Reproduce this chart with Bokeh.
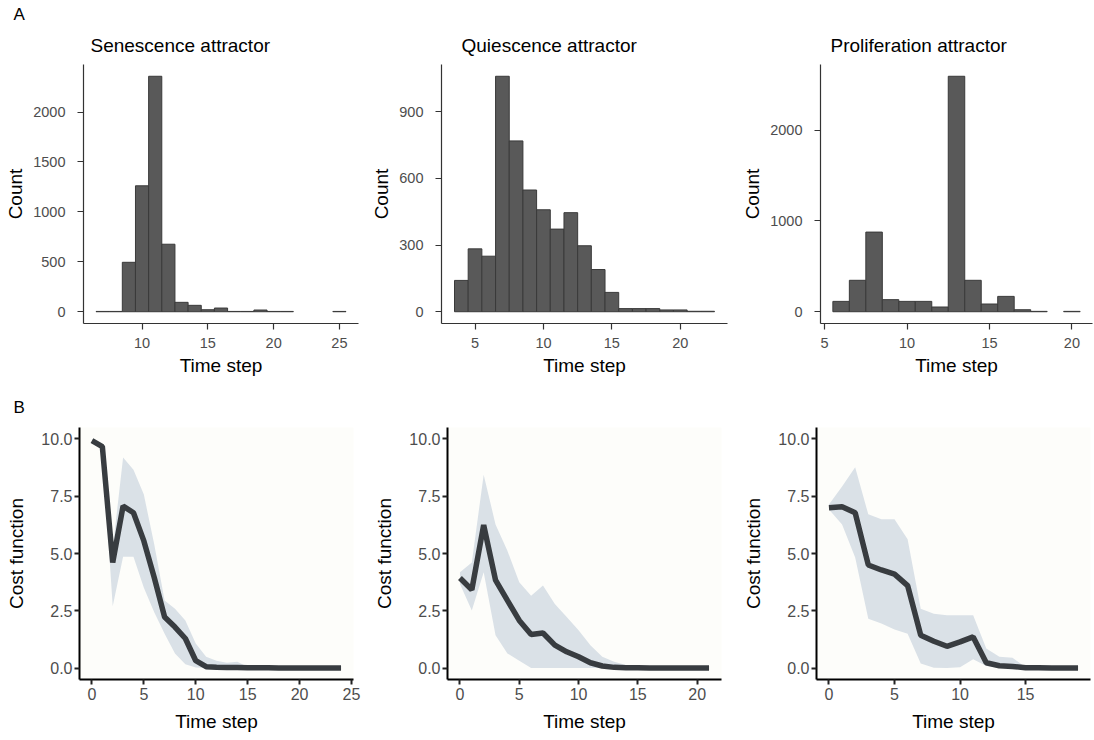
from bokeh.plotting import figure
from bokeh.layouts import column, row
from bokeh.models import FixedTicker, NumeralTickFormatter, Range1d, Title
from bokeh.embed import file_html
from bokeh.resources import INLINE

FONT = "Liberation Sans"

# ---- Panel A: histograms of time step to reach attractor ----
sen_steps = [7, 8, 9, 10, 11, 12, 13, 14, 15, 16, 17, 18, 19, 20, 21, 25]
sen_counts = [3, 3, 495, 1261, 2358, 676, 94, 64, 20, 37, 3, 3, 17, 3, 3, 3]

qui_steps = [4, 5, 6, 7, 8, 9, 10, 11, 12, 13, 14, 15, 16, 17, 18, 19, 20, 21, 22]
qui_counts = [141, 283, 250, 1060, 769, 548, 459, 372, 446, 297, 190, 87, 14, 14, 14, 8, 8, 2, 2]

pro_steps = [6, 7, 8, 9, 10, 11, 12, 13, 14, 15, 16, 17, 18, 20]
pro_counts = [114, 346, 877, 133, 114, 114, 52, 2593, 346, 85, 169, 22, 4, 4]

hist_titles = ["Senescence attractor", "Quiescence attractor", "Proliferation attractor"]
sen_xticks = [10, 15, 20, 25]
sen_yticks = [0, 500, 1000, 1500, 2000]
qui_xticks = [5, 10, 15, 20]
qui_yticks = [0, 300, 600, 900]
pro_xticks = [5, 10, 15, 20]
pro_yticks = [0, 1000, 2000]

# ---- Panel B: cost function over time steps ----
sen_mean = [9.93, 9.67, 4.61, 7.07, 6.78, 5.55, 3.95, 2.23, 1.79, 1.29, 0.32, 0.06, 0.03,
            0.02, 0.02, 0.01, 0.01, 0.01, 0.0, 0.0, 0.0, 0.0, 0.0, 0.0, 0.0]
sen_upper = [10.0, 9.75, 5.2, 9.19, 8.66, 7.57, 5.4, 2.95, 2.59, 2.08, 1.07, 0.49, 0.32,
             0.23, 0.27, 0.06, 0.02, 0.01, 0.0, 0.0, 0.0, 0.0, 0.0, 0.0, 0.0]
sen_lower = [9.85, 9.6, 2.7, 4.86, 4.86, 3.5, 2.44, 1.5, 0.64, 0.17, 0.02, 0.0, 0.0,
             0.0, 0.0, 0.0, 0.0, 0.0, 0.0, 0.0, 0.0, 0.0, 0.0, 0.0, 0.0]

qui_mean = [3.93, 3.42, 6.24, 3.84, 2.95, 2.08, 1.46, 1.53, 1.0, 0.71, 0.49, 0.23, 0.09,
            0.03, 0.01, 0.01, 0.0, 0.0, 0.0, 0.0, 0.0, 0.0]
qui_upper = [4.18, 4.61, 8.44, 6.27, 5.12, 3.74, 3.16, 3.6, 2.8, 2.23, 1.65, 1.0, 0.49,
             0.27, 0.13, 0.06, 0.02, 0.01, 0.0, 0.0, 0.0, 0.0]
qui_lower = [3.67, 2.51, 4.18, 1.43, 0.64, 0.32, 0.0, 0.0, 0.0, 0.0, 0.0, 0.0, 0.0,
             0.0, 0.0, 0.0, 0.0, 0.0, 0.0, 0.0, 0.0, 0.0]

pro_mean = [7.0, 7.04, 6.78, 4.5, 4.28, 4.1, 3.6, 1.43, 1.17, 0.95, 1.14, 1.36, 0.23,
            0.1, 0.07, 0.01, 0.01, 0.0, 0.0, 0.0]
pro_upper = [7.14, 7.93, 8.76, 6.71, 6.49, 6.49, 5.62, 2.59, 2.37, 2.3, 2.3, 2.3, 0.85,
             0.49, 0.45, 0.03, 0.01, 0.0, 0.0, 0.0]
pro_lower = [6.92, 6.27, 4.83, 2.15, 1.94, 1.68, 1.5, 0.2, 0.01, 0.0, 0.03, 0.38, 0.09,
             0.0, 0.0, 0.0, 0.0, 0.0, 0.0, 0.0]

cost_yticks = [0, 2.5, 5, 7.5, 10]
sen_txticks = [0, 5, 10, 15, 20, 25]
qui_txticks = [0, 5, 10, 15, 20]
pro_txticks = [0, 5, 10, 15]

BAR_FILL = "#595959"
BAR_LINE = "#3a3a3a"
LINE_COL = "#383c40"
RIBBON_COL = "#dae1e7"

TOP_H, BOT_H = 385, 355


def style(p, xticks, yticks, top_row):
    p.xaxis.ticker = FixedTicker(ticks=xticks)
    p.yaxis.ticker = FixedTicker(ticks=yticks)
    p.xgrid.visible = False
    p.ygrid.visible = False
    p.outline_line_color = None
    for ax in (p.xaxis[0], p.yaxis[0]):
        ax.minor_tick_line_color = None
        ax.major_tick_in = 0
        ax.major_label_text_font = FONT
        ax.major_label_text_color = "#4d4d4d"
        ax.axis_label_text_font = FONT
        ax.axis_label_text_font_style = "normal"
        ax.axis_label_text_font_size = "19px"
        ax.axis_label_text_color = "#000000"
        if top_row:
            ax.axis_line_color = "#333333"
            ax.axis_line_width = 1.2
            ax.major_tick_line_color = "#333333"
            ax.major_tick_line_width = 1.2
            ax.major_tick_out = 6
            ax.major_label_text_font_size = "14.5px"
        else:
            ax.axis_line_color = "#000000"
            ax.axis_line_width = 2
            ax.major_tick_line_color = "#222222"
            ax.major_tick_line_width = 2
            ax.major_tick_out = 5
            ax.major_label_text_font_size = "16px"
    if top_row:
        p.xaxis.major_label_standoff = 8
        p.yaxis.major_label_standoff = 12
        p.xaxis.axis_label_standoff = 4
        p.yaxis.axis_label_standoff = 4
    else:
        p.xaxis.major_label_standoff = 3
        p.yaxis.major_label_standoff = 2
        p.xaxis.axis_label_standoff = 8
        p.yaxis.axis_label_standoff = 11


def make_title(text, offset, standoff, size):
    return Title(text=text, align="left", offset=offset, standoff=standoff,
                 text_font=FONT, text_font_size=size, text_font_style="normal",
                 text_color="#000000")


def hist_fig(steps, counts, xticks, yticks, title, width, left, right, title_off, letter=None):
    lo, hi = min(steps) - 0.5, max(steps) + 0.5
    pad = 0.05 * (hi - lo)
    ymax = max(counts)
    p = figure(width=width, height=TOP_H, output_backend="svg", toolbar_location=None,
               x_range=Range1d(lo - pad, hi + pad), y_range=Range1d(-0.05 * ymax, 1.05 * ymax),
               min_border_left=left, min_border_right=right, min_border_top=64,
               min_border_bottom=TOP_H - 323,
               x_axis_label="Time step", y_axis_label="Count")
    p.title = None
    stack = [make_title(title, title_off, 17, "19px")]
    if letter:
        stack.append(make_title(letter, -70, 1, "17px"))
    p.above = stack
    p.quad(left=[s - 0.5 for s in steps], right=[s + 0.5 for s in steps], bottom=0, top=counts,
           fill_color=BAR_FILL, line_color=BAR_LINE, line_width=1)
    style(p, xticks, yticks, True)
    return p


def cost_fig(mean, upper, lower, xticks, width, left, right, letter=None):
    t = list(range(len(mean)))
    pad = 0.05 * (t[-1] - t[0])
    p = figure(width=width, height=BOT_H, output_backend="svg", toolbar_location=None,
               x_range=Range1d(-pad, t[-1] + pad), y_range=Range1d(-0.5, 10.5),
               min_border_left=left, min_border_right=right, min_border_top=427 - TOP_H,
               min_border_bottom=61,
               x_axis_label="Time step", y_axis_label="Cost function",
               background_fill_color="#fdfdfa")
    p.title = None
    p.varea(x=t, y1=lower, y2=upper, fill_color=RIBBON_COL, fill_alpha=1.0)
    p.line(x=t, y=mean, line_color=LINE_COL, line_width=5.5)
    style(p, xticks, cost_yticks, False)
    p.yaxis.formatter = NumeralTickFormatter(format="0.0")
    if letter:
        p.above = [make_title(letter, -66, 21, "17px")]
    return p


a1 = hist_fig(sen_steps, sen_counts, sen_xticks, sen_yticks, hist_titles[0], 365, 83, 7, 7, "A")
a2 = hist_fig(qui_steps, qui_counts, qui_xticks, qui_yticks, hist_titles[1], 365, 76, 3, 20)
a3 = hist_fig(pro_steps, pro_counts, pro_xticks, pro_yticks, hist_titles[2], 364, 90, 2, 10)

b1 = cost_fig(sen_mean, sen_upper, sen_lower, sen_txticks, 365, 79, 12, "B")
b2 = cost_fig(qui_mean, qui_upper, qui_lower, qui_txticks, 365, 82, 9)
b3 = cost_fig(pro_mean, pro_upper, pro_lower, pro_txticks, 364, 86, 4)

layout = column(row(a1, a2, a3), row(b1, b2, b3))

open("out.html", "w").write(file_html(layout, INLINE))
